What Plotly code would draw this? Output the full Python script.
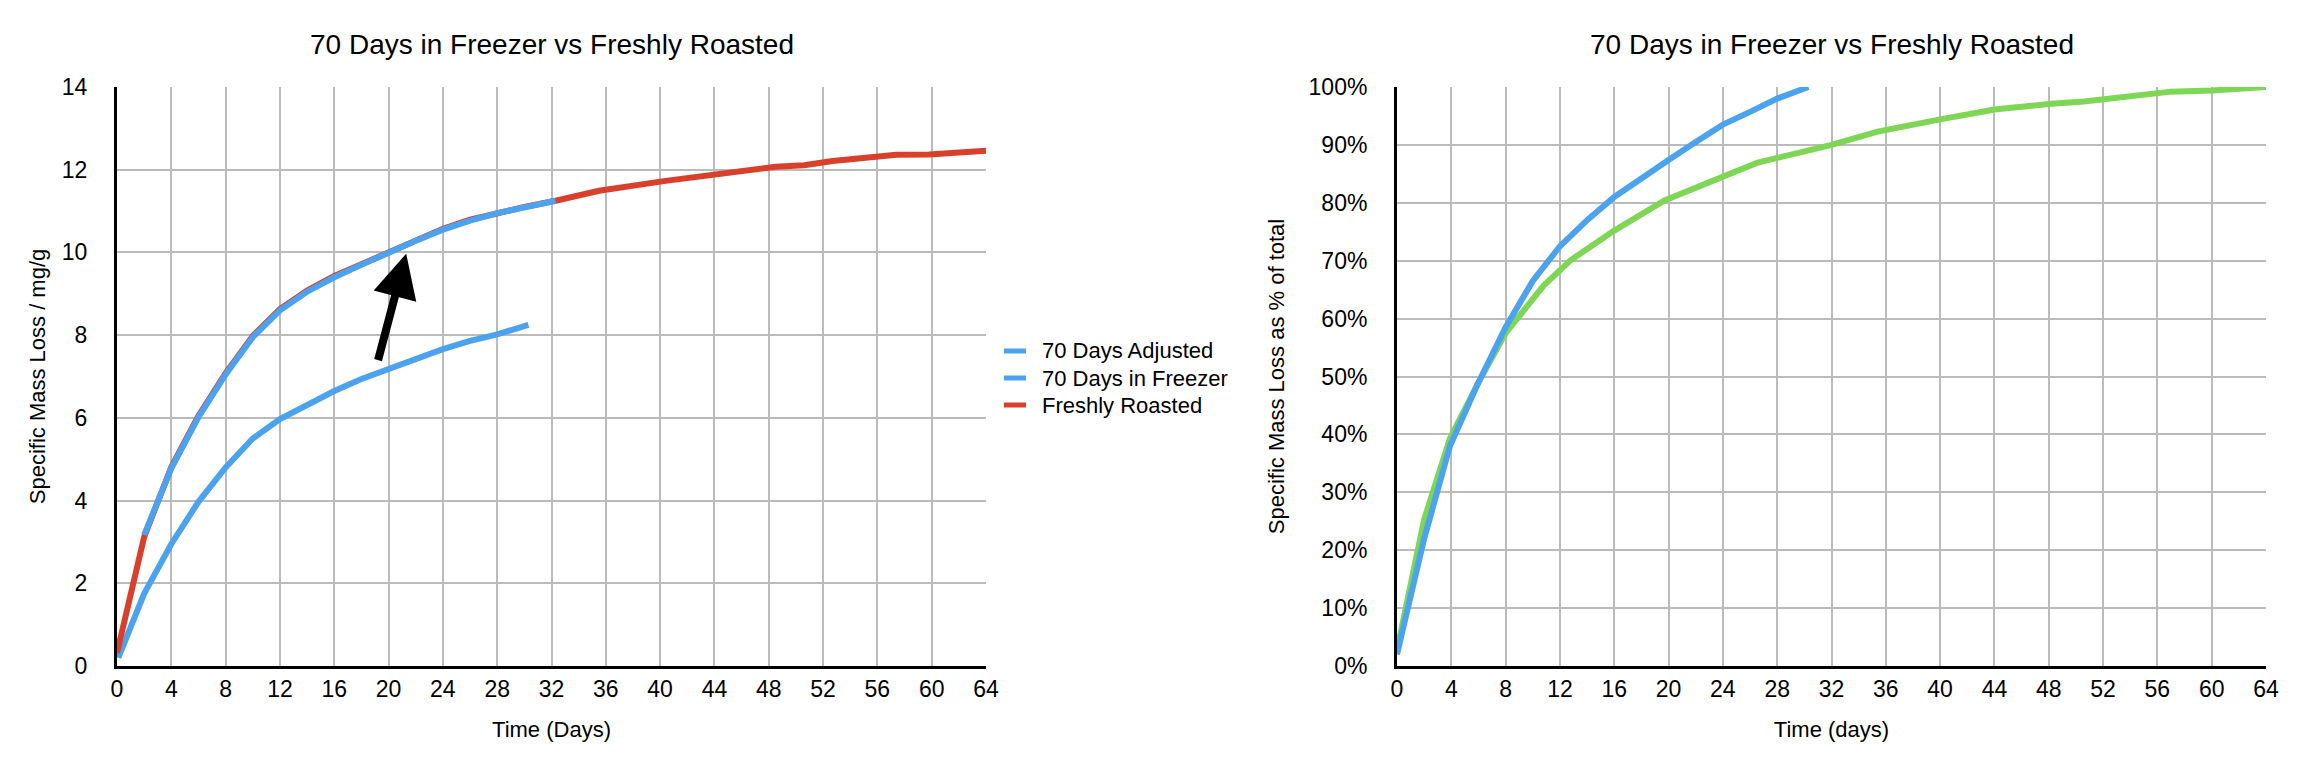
import plotly.graph_objects as go

# ---- Left chart data (Specific Mass Loss, mg/g) ----
fresh_days = [0, 2.0, 4, 6, 8, 10, 12, 14, 16, 18, 20, 22, 24, 26, 28, 30, 32.3,
              35.5, 40.4, 44.5, 48.5, 50.6, 52.7, 57.4, 59.8, 64]
fresh_loss = [0.32, 3.12, 4.81, 6.05, 7.08, 7.98, 8.63, 9.08, 9.43, 9.72, 10.02, 10.3, 10.57, 10.79, 10.96, 11.1, 11.25,
              11.49, 11.73, 11.9, 12.07, 12.11, 12.21, 12.36, 12.37, 12.46]

adj_days = [2.0, 4, 6, 8, 10, 12, 14, 16, 18, 20, 22, 24, 26, 28, 30, 32.3]
adj_loss = [3.17, 4.78, 6.02, 7.05, 7.95, 8.6, 9.05, 9.4, 9.7, 10.0, 10.28, 10.55, 10.77, 10.95, 11.1, 11.25]

frz_days = [0.1, 2, 4, 6, 8, 10, 12, 14, 16, 18, 20, 22, 24, 26, 28, 30.3]
frz_loss = [0.2, 1.75, 2.95, 3.97, 4.8, 5.5, 5.97, 6.33, 6.65, 6.94, 7.18, 7.42, 7.66, 7.86, 8.02, 8.25]

# ---- Right chart data (% of total) ----
pct_frz_days = [0, 2.0, 3.9, 5.9, 8.0, 10.0, 12.0, 14.0, 16.0, 18.0, 20.0, 22.0, 24.0, 26.0, 28.0, 30.3]
pct_frz = [0.02, 0.22, 0.38, 0.485, 0.585, 0.665, 0.725, 0.77, 0.81, 0.843, 0.874, 0.905, 0.935, 0.957, 0.98, 1.0]

pct_fresh_days = [0, 2.0, 3.9, 6.0, 8.0, 10.8, 12.8, 16.0, 19.7, 24.0, 26.5, 32.0, 35.4, 40.0, 44.0, 48.2, 50.6, 57.0, 60.0, 64.0]
pct_fresh = [0.027, 0.253, 0.393, 0.49, 0.575, 0.657, 0.701, 0.752, 0.804, 0.845, 0.869, 0.90, 0.923, 0.944, 0.961, 0.971, 0.975, 0.992, 0.994, 1.0]

x_ticks = list(range(0, 65, 4))
left_y_ticks = list(range(0, 15, 2))
right_y_ticks = [i / 10 for i in range(0, 11)]

legend_names = ["70 Days Adjusted", "70 Days in Freezer", "Freshly Roasted"]

BLUE = "#4BA3F0"
RED = "#D8402B"
GREEN = "#7ED655"
FONT = "Liberation Sans"
legend_colors = [BLUE, BLUE, RED]

# page body has an 8px margin; figure is sized to fit inside the window
OFF = 8
W, H = 2297 - 2 * OFF, 768 - 2 * OFF


def px(v):
    return (v - OFF) / W


def py(v):
    return 1 - (v - OFF) / H


fig = go.Figure()

fig.add_trace(go.Scatter(x=frz_days, y=frz_loss, mode="lines", name=legend_names[1],
                         line=dict(color=BLUE, width=6), xaxis="x", yaxis="y"))
fig.add_trace(go.Scatter(x=fresh_days, y=fresh_loss, mode="lines", name=legend_names[2],
                         line=dict(color=RED, width=6), xaxis="x", yaxis="y"))
fig.add_trace(go.Scatter(x=adj_days, y=adj_loss, mode="lines", name=legend_names[0],
                         line=dict(color=BLUE, width=6), xaxis="x", yaxis="y"))

fig.add_trace(go.Scatter(x=pct_fresh_days, y=pct_fresh, mode="lines",
                         line=dict(color=GREEN, width=6), xaxis="x2", yaxis="y2"))
fig.add_trace(go.Scatter(x=pct_frz_days, y=pct_frz, mode="lines",
                         line=dict(color=BLUE, width=6), xaxis="x2", yaxis="y2"))

yd = [py(666), py(87)]

axis_common = dict(
    showgrid=True, gridcolor="#BBBBBB", gridwidth=2,
    showline=True, linecolor="black", linewidth=3,
    ticks="", zeroline=False, automargin=False,
    tickfont=dict(family=FONT, size=23, color="black"),
)

fig.update_layout(
    width=W, height=H,
    margin=dict(l=0, r=0, t=0, b=0),
    paper_bgcolor="white", plot_bgcolor="white",
    font=dict(family=FONT, color="black"),
    showlegend=False,
    xaxis=dict(domain=[px(117), px(986)], range=[0, 64], tickvals=x_ticks,
               title=dict(text="Time (Days)", font=dict(size=22), standoff=22),
               ticklabelstandoff=0, anchor="y", **axis_common),
    yaxis=dict(domain=yd, range=[0, 14], tickvals=left_y_ticks,
               title=dict(text="Specific Mass Loss / mg/g", font=dict(size=22), standoff=11),
               ticklabelstandoff=22, anchor="x", **axis_common),
    xaxis2=dict(domain=[px(1397), px(2266)], range=[0, 64], tickvals=x_ticks,
                title=dict(text="Time (days)", font=dict(size=22), standoff=22),
                ticklabelstandoff=0, anchor="y2", **axis_common),
    yaxis2=dict(domain=yd, range=[0, 1], tickvals=right_y_ticks, tickformat=".0%",
                title=dict(text="Specific Mass Loss as % of total", font=dict(size=22), standoff=18),
                ticklabelstandoff=22, anchor="x2", **axis_common),
)

# Titles
for cx, txt in [(px((117 + 986) / 2), "70 Days in Freezer vs Freshly Roasted"),
                (px((1397 + 2266) / 2), "70 Days in Freezer vs Freshly Roasted")]:
    fig.add_annotation(x=cx, y=py(45), xref="paper", yref="paper", text=txt,
                       showarrow=False, font=dict(family=FONT, size=28, color="black"),
                       xanchor="center", yanchor="middle")

# Legend (drawn manually to match the short sample lines)
for i, (name, col) in enumerate(zip(legend_names, legend_colors)):
    yy = py(351 + i * 27)
    fig.add_shape(type="line", xref="paper", yref="paper", x0=px(1004), x1=px(1026), y0=yy, y1=yy,
                  line=dict(color=col, width=5))
    fig.add_annotation(x=px(1040), y=yy, xref="paper", yref="paper", text=name, showarrow=False,
                       xanchor="left", yanchor="middle", font=dict(family=FONT, size=22, color="black"))

# Arrow
fig.add_annotation(x=21.3, y=9.97, ax=19.2, ay=7.36, xref="x", yref="y", axref="x", ayref="y",
                   showarrow=True, arrowhead=2, arrowsize=1.1, arrowwidth=8, arrowcolor="black",
                   text="")

fig.write_html("out.html")
